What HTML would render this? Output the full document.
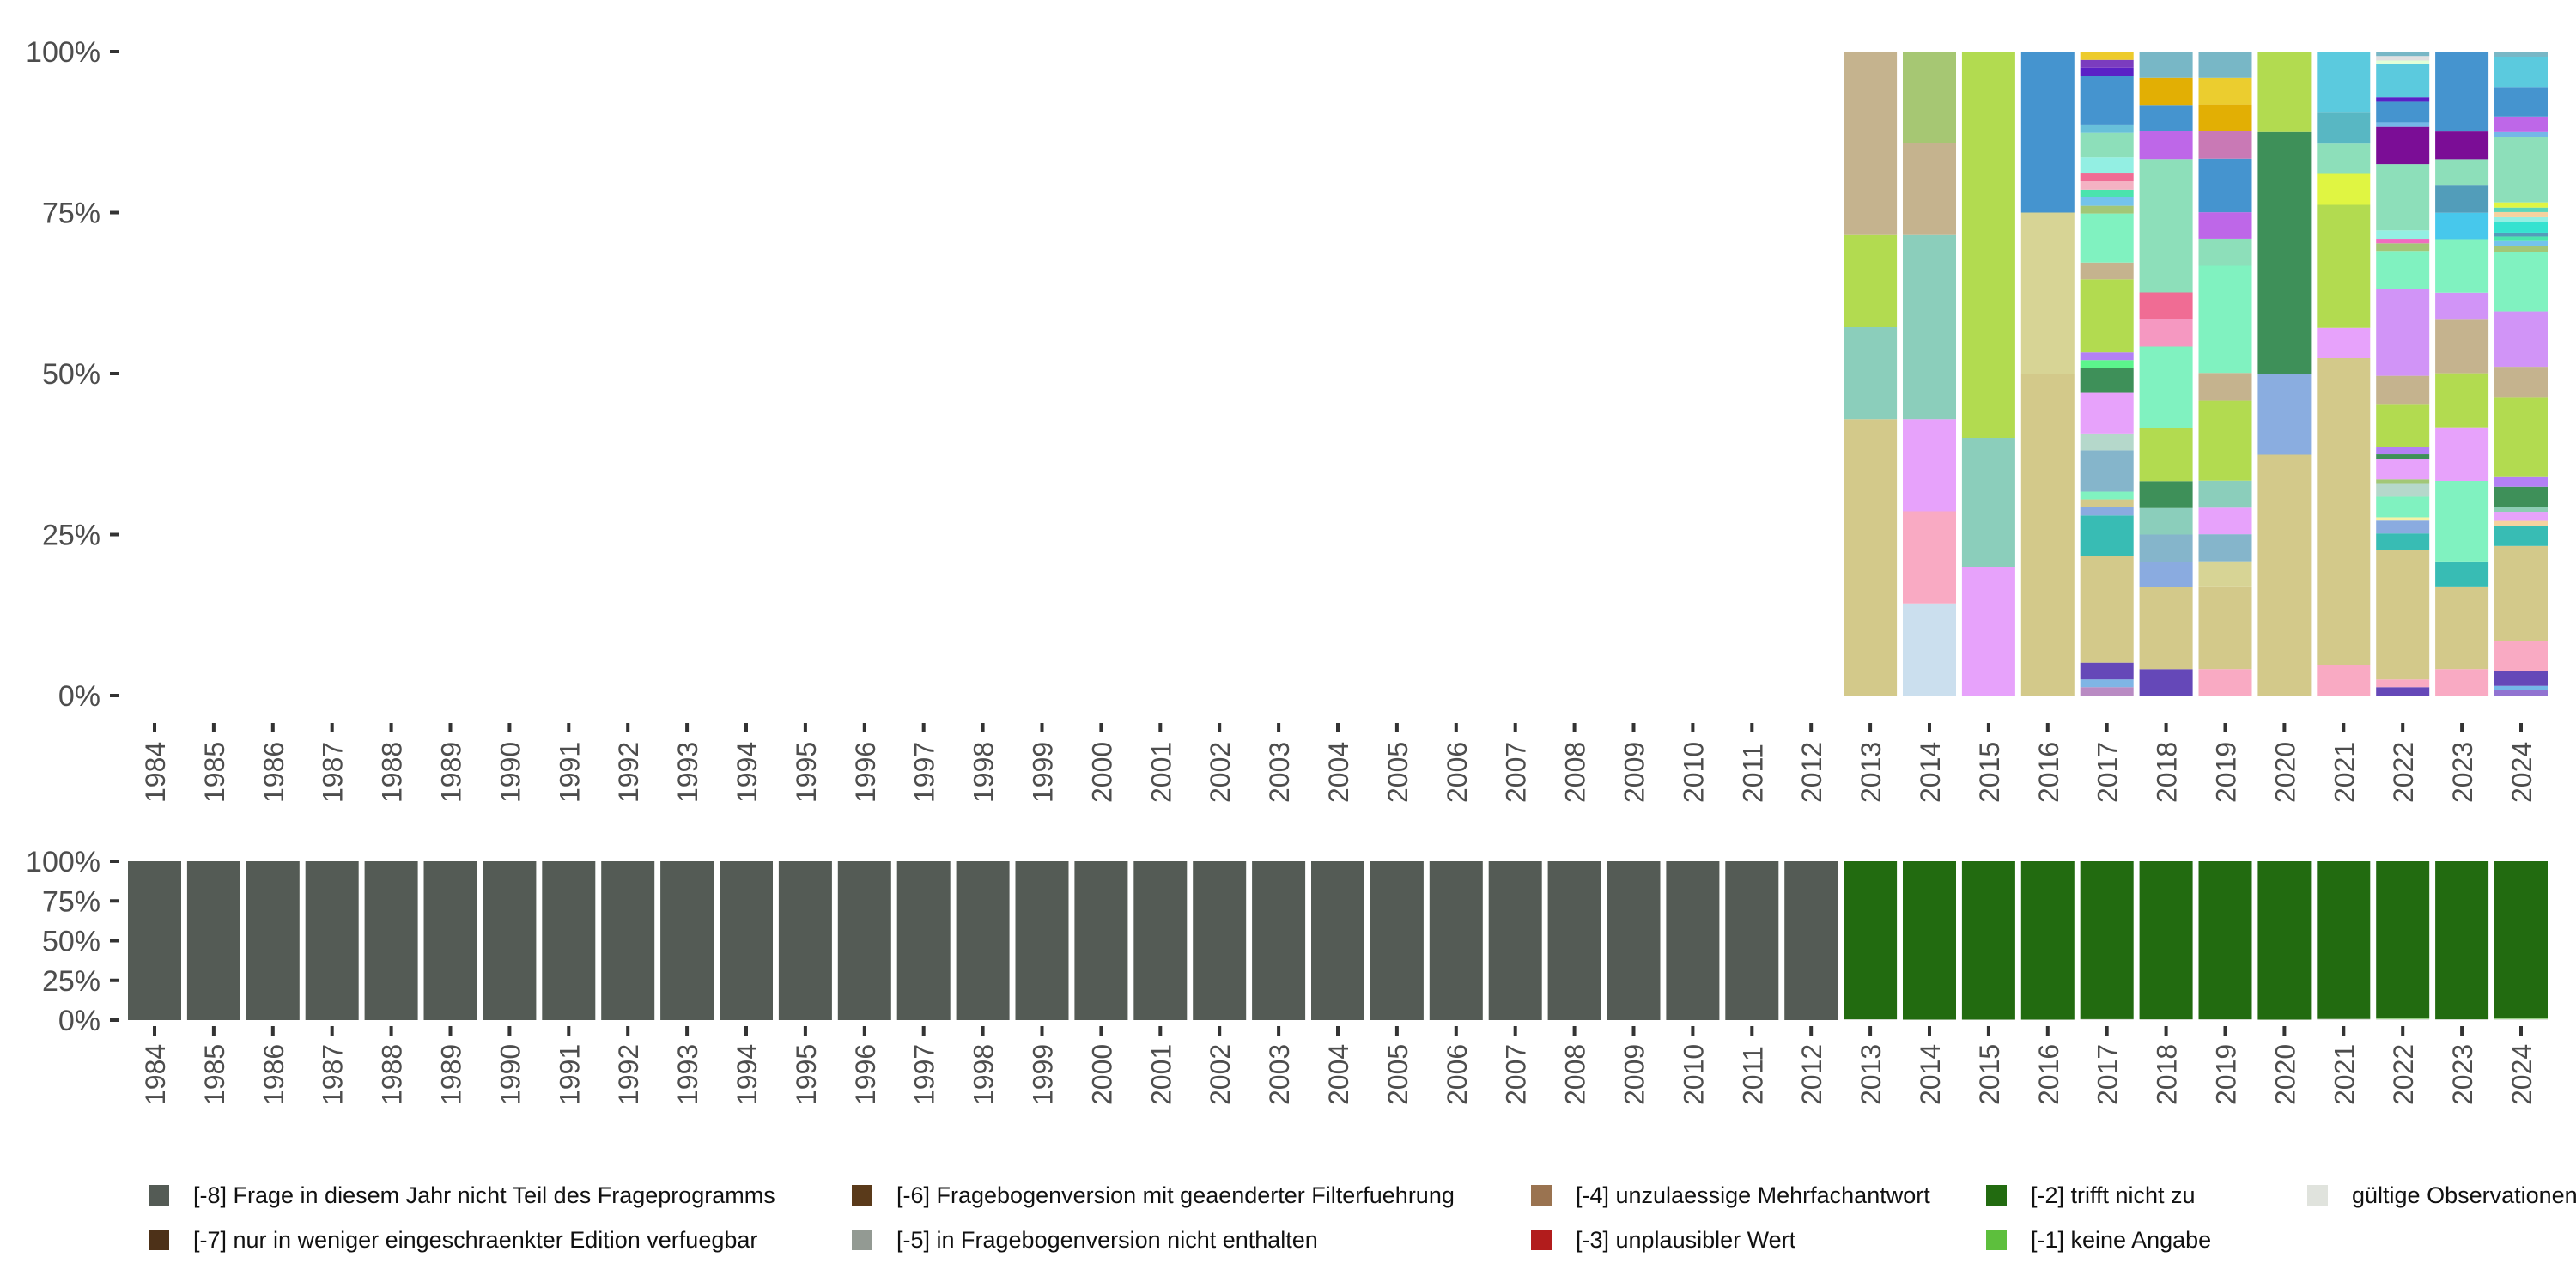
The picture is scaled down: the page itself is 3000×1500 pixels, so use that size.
<!DOCTYPE html>
<html><head><meta charset="utf-8"><style>
html,body{margin:0;padding:0;background:#fff;}
svg{display:block;font-family:"Liberation Sans",sans-serif;}
</style></head><body>
<svg id="chart" width="3000" height="1500" viewBox="0 0 3000 1500" xmlns="http://www.w3.org/2000/svg">
<g id="top"></g>
<g id="bottom"></g>
<g id="legend"></g>
</svg>
<script>
const years = [];
for (let y = 1984; y <= 2024; y++) years.push(y);
const yTicks = [0, 25, 50, 75, 100];
const yTickLabels = ["0%", "25%", "50%", "75%", "100%"];

// top panel: values (%) and colours per year, bottom to top
const v2013 = [42.9, 14.3, 14.3, 28.5];
const c2013 = ["#D3C98A","#8BCEBB","#B2DB50","#C5B38E"];
const v2014 = [14.3, 14.3, 14.3, 28.6, 14.3, 14.2];
const c2014 = ["#CBDFEE","#F9AAC3","#E7A2FB","#8BCEBB","#C5B38E","#A6C773"];
const v2015 = [20, 20, 60];
const c2015 = ["#E7A2FB","#8BCEBB","#B2DB50"];
const v2016 = [50, 25, 25];
const c2016 = ["#D3C98A","#D7D495","#4594CF"];
const v2017 = [1.3,1.2,2.6,16.5,6.3,1.3,1.2,1.2,6.4,2.6,6.3,3.8,1.3,1.2,11.3,2.6,7.6,1.2,1.3,1.2,1.3,1.2,2.5,3.8,1.3,7.5,1.3,1.2,1.3];
const c2017 = ["#B98BC3","#7FB5E5","#6548B8","#D3C98A","#38BCB4","#8AABE0","#D3C98A","#80F2C0","#85B5CB","#B5D8CB","#E7A2FB","#3E9059","#5CF58C","#B380F5","#B2DB50","#C5B38E","#80F2C0","#A2C777","#74C3EB","#4AE4AD","#F4B2C3","#F06C94","#93EFE3","#8DDFBA","#68C0DA","#4594CF","#5A20C6","#7B3CBF","#EDCB2C"];
const v2018 = [4.1,12.7,4.0,4.2,4.1,4.2,8.3,12.6,4.2,4.2,20.7,4.3,4.1,4.2,4.1];
const c2018 = ["#6548B8","#D3C98A","#8AABE0","#85B5CB","#8BCEBB","#3E9059","#B2DB50","#80F2C0","#F598C1","#F06C94","#8DDFBA","#BE67E8","#4594CF","#E2AF04","#78B7C6"];
const v2019 = [4.1,12.7,4.0,4.2,4.1,4.2,12.4,4.3,16.6,4.2,4.1,8.3,4.3,4.1,4.1,4.1];
const c2019 = ["#F9AAC3","#D3C98A","#D7D495","#85B5CB","#E7A2FB","#8BCEBB","#B2DB50","#C5B38E","#80F2C0","#8DDFBA","#BE67E8","#4594CF","#C979B5","#E2AF04","#EBCD2F","#78B7C6"];
const v2020 = [37.4, 12.6, 37.5, 12.5];
const c2020 = ["#D3C98A","#8AADE0","#3E9059","#B2DB50"];
const v2021 = [4.8,47.6,4.7,19.1,4.8,4.7,4.8,9.5];
const c2021 = ["#F9AAC3","#D3C98A","#E7A2FB","#B2DB50","#E0F542","#8DDFBA","#58B7C3","#5BCADE"];
const v2022 = [1.3,1.2,20.1,2.6,2.0,0.5,3.2,2.0,0.7,3.2,0.7,1.2,6.5,4.5,13.5,5.9,1.2,0.7,1.3,10.3,5.8,0.7,3.2,0.7,5.1,0.6,0.7,0.7];
const c2022 = ["#6548B8","#F9AAC3","#D3C98A","#38BCB4","#8AABE0","#F5F2A5","#80F2C0","#B5D8CB","#A2C777","#E7A2FB","#3E9059","#B380F5","#B2DB50","#C5B38E","#D194F7","#80F2C0","#A2C777","#F06CC0","#93EFE3","#8DDFBA","#7B0D96","#74B7E8","#4594CF","#5A20C6","#5BCADE","#E0FFD8","#E0E0E0","#78B7C6"];
const v2023 = [4.1,12.7,4.0,12.5,8.3,8.4,8.3,4.2,8.3,4.1,4.2,4.1,4.3,12.4];
const c2023 = ["#F9AAC3","#D3C98A","#38BCB4","#80F2C0","#E7A2FB","#B2DB50","#C5B38E","#D194F7","#80F2C0","#47C8EC","#529DBA","#8DDFBA","#7B0D96","#4594CF"];
const v2024 = [0.8,0.7,2.3,4.7,14.7,3.1,0.8,1.4,0.8,3.1,1.6,12.3,4.7,8.6,9.2,0.9,0.8,0.7,0.6,1.6,0.8,0.8,0.7,0.8,10.1,0.8,2.4,4.6,4.7,0.8];
const c2024 = ["#9173D1","#74B7E8","#6548B8","#F9AAC3","#D3C98A","#38BCB4","#F5D29F","#E7A2FB","#8DCDB4","#3E9059","#B380F5","#B2DB50","#C5B38E","#D194F7","#80F2C0","#A2C777","#74C3EB","#4AE4AD","#529DBA","#35E2D0","#93EFE3","#F5D29F","#5CD6B8","#E0F542","#8DDFBA","#74B7E8","#BE67E8","#4594CF","#5BCADE","#78B7C6"];
const topValues = {2013:v2013,2014:v2014,2015:v2015,2016:v2016,2017:v2017,2018:v2018,2019:v2019,2020:v2020,2021:v2021,2022:v2022,2023:v2023,2024:v2024};
const topColors = {2013:c2013,2014:c2014,2015:c2015,2016:c2016,2017:c2017,2018:c2018,2019:c2019,2020:c2020,2021:c2021,2022:c2022,2023:c2023,2024:c2024};

// bottom panel: status categories per year (%)
const statusNames = ["gültige Observationen","[-1] keine Angabe","[-2] trifft nicht zu","[-8] Frage in diesem Jahr nicht Teil des Frageprogramms"];
const statusColors = ["#E0E3DD","#5DBF3D","#226B10","#545B55"];
const validShare = [0,0,0,0,0,0,0,0,0,0,0,0,0,0,0,0,0,0,0,0,0,0,0,0,0,0,0,0,0,0.5,0.3,0.3,0.3,0.6,0.5,0.5,0.3,0.7,0.8,0.5,0.8];
const noAnswerShare = [0,0,0,0,0,0,0,0,0,0,0,0,0,0,0,0,0,0,0,0,0,0,0,0,0,0,0,0,0,0,0,0,0,0,0,0,0,0,0.5,0,0.5];
const notApplicableShare = [0,0,0,0,0,0,0,0,0,0,0,0,0,0,0,0,0,0,0,0,0,0,0,0,0,0,0,0,0,99.5,99.7,99.7,99.7,99.4,99.5,99.5,99.7,99.3,98.7,99.5,98.7];
const notAskedShare = [100,100,100,100,100,100,100,100,100,100,100,100,100,100,100,100,100,100,100,100,100,100,100,100,100,100,100,100,100,0,0,0,0,0,0,0,0,0,0,0,0];

const legendLabels = ["[-8] Frage in diesem Jahr nicht Teil des Frageprogramms","[-7] nur in weniger eingeschraenkter Edition verfuegbar","[-6] Fragebogenversion mit geaenderter Filterfuehrung","[-5] in Fragebogenversion nicht enthalten","[-4] unzulaessige Mehrfachantwort","[-3] unplausibler Wert","[-2] trifft nicht zu","[-1] keine Angabe","gültige Observationen"];
const legendColors = ["#545B55","#4D3118","#5A3A1A","#939A93","#9A7350","#B21C1C","#226B10","#5DBF3D","#E0E3DD"];

const NS = "http://www.w3.org/2000/svg";
const PITCH = 68.9, X0 = 180, BW = 62;
function xC(i){ return X0 + i*PITCH; }
function yTop(v){ return 810 - v/100*750; }
function yBot(v){ return 1188 - v/100*185; }
function mk(tag, attrs, parent){
  const e = document.createElementNS(NS, tag);
  for (const k in attrs) e.setAttribute(k, attrs[k]);
  parent.appendChild(e);
  return e;
}
function axes(g, yf, tickY, labelStart, name){
  yTicks.forEach((t,k)=>{
    const tk = mk("rect",{x:128,y:yf(t)-2,width:11,height:4,fill:"#333"},g);
    
    
    const tx = mk("text",{x:117,y:yf(t)+12,"text-anchor":"end","font-size":34,fill:"#4D4D4D"},g);
    tx.textContent = yTickLabels[k];
    
    
  });
  years.forEach((yr,i)=>{
    const tk = mk("rect",{x:xC(i)-2,y:tickY,width:4,height:11,fill:"#333"},g);
    
    
    const tx = mk("text",{x:0,y:0,"text-anchor":"start","font-size":32,fill:"#4D4D4D",transform:"translate("+(xC(i)+12)+","+labelStart+") rotate(-90)"},g);
    tx.textContent = yr;
    
    
  });
}
const gt = document.getElementById("top");
axes(gt, yTop, 842, 935, "top");
years.forEach((yr,i)=>{
  const vals = topValues[yr]; if(!vals) return;
  const cols = topColors[yr];
  const tot = vals.reduce((a,b)=>a+b,0);
  let acc = 0;
  vals.forEach((v,j)=>{
    const p0 = acc/tot*100, p1 = (acc+v)/tot*100; acc += v;
    const r = mk("rect",{x:xC(i)-BW/2,y:yTop(p1),width:BW,height:yTop(p0)-yTop(p1),fill:cols[j]},gt);
    
    
  });
});
const gb = document.getElementById("bottom");
axes(gb, yBot, 1195, 1287, "bottom");
years.forEach((yr,i)=>{
  const vals = [validShare[i], noAnswerShare[i], notApplicableShare[i], notAskedShare[i]];
  const tot = vals.reduce((a,b)=>a+b,0);
  let acc = 0;
  vals.forEach((v,j)=>{
    if (v<=0) return;
    const p0 = acc/tot*100, p1 = (acc+v)/tot*100; acc += v;
    const r = mk("rect",{x:xC(i)-BW/2,y:yBot(p1),width:BW,height:yBot(p0)-yBot(p1),fill:statusColors[j]},gb);
    
    
  });
});
const gl = document.getElementById("legend");
const colX = [173, 992, 1783, 2313, 2687];
legendLabels.forEach((lab,k)=>{
  const col = Math.floor(k/2), row = k%2;
  const x = colX[col], y = row ? 1432 : 1380;
  const sw = mk("rect",{x:x,y:y,width:24,height:24,fill:legendColors[k]},gl);
  
  
  const t = mk("text",{x:x+52,y:y+21,"font-size":27,fill:"#111"},gl);
  t.textContent = lab;
  
  
});
</script>
</body></html>
